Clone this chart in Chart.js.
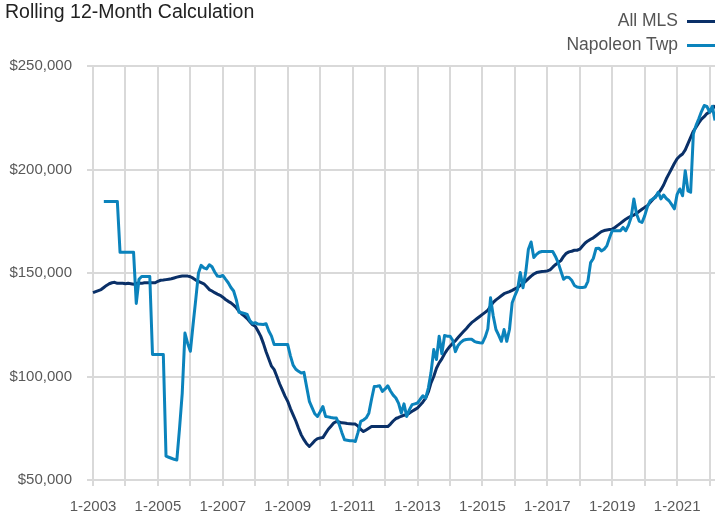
<!DOCTYPE html>
<html lang="en">
<head>
<meta charset="UTF-8">
<title>Rolling 12-Month Calculation</title>
<script src="https://cdn.jsdelivr.net/npm/chart.js@4.4.1/dist/chart.umd.min.js"></script>
<style>
  body { margin: 0; background: #fff; font-family: "Liberation Sans", Arial, sans-serif; }
  #wrap { position: relative; width: 715px; height: 515px; overflow: hidden; }
  #title { position: absolute; left: 5px; top: 0px; font-size: 19.5px; color: #222; white-space: nowrap; }
  #legend { position: absolute; right: 0; top: 8px; font-size: 17.5px; color: #555; text-align: right; }
  #legend div { height: 24px; line-height: 24px; white-space: nowrap; }
  #legend span.sw { display: inline-block; width: 28px; height: 3px; margin-left: 9px; vertical-align: middle; }
  canvas { position: absolute; left: 0; top: 0; }
</style>
</head>
<body>
<div id="wrap">
  <canvas id="myChart" width="715" height="515"></canvas>
  <div id="title">Rolling 12-Month Calculation</div>
  <div id="legend"></div>
</div>
<script>
// monthly series, Jan 2003 .. Mar 2022, values in $ thousands
var startYear = 2003;
var monthCount = 231;
var tickLabels = ['1-2003', '1-2005', '1-2007', '1-2009', '1-2011', '1-2013', '1-2015', '1-2017', '1-2019', '1-2021'];
var seriesNames = ['All MLS', 'Napoleon Twp'];
var seriesColors = ['#0a3068', '#0b83bc'];

var allMls = [
  140.5, 141, 141.5, 142, 143, 144, 144.8, 145.3, 145.5, 145,
  145, 145, 144.8, 145, 144.8, 144.6, 145, 145, 145, 145.3,
  145.3, 145.3, 145.3, 145.3, 146, 146.5, 146.6, 146.8, 147, 147.2,
  147.6, 148, 148.3, 148.5, 148.6, 148.5, 148.2, 147.5, 146.6, 146,
  145.4, 144.8, 143.5, 142, 141.3, 140.5, 139.8, 139.2, 138.3, 137.2,
  136.3, 135.6, 134.5, 133.2, 131.5, 130.2, 129.2, 128, 126.5, 125,
  124.3, 122, 119.5, 116, 112, 108.5, 105, 103.3, 100, 96.5,
  93.5, 90.5, 88, 84.5, 81.5, 78.5, 75, 71.8, 69.5, 67.5,
  66.2, 67.5, 69, 70, 70.3, 70.5, 72.5, 74.5, 76, 77.5,
  78.3, 78, 77.6, 77.5, 77.3, 77.2, 77.1, 77, 76, 74.5,
  73.4, 74.2, 75, 75.8, 75.8, 75.8, 75.8, 75.8, 75.8, 75.8,
  77, 78.5, 79.7, 80.2, 80.8, 81.3, 81.5, 82.3, 83.2, 84,
  84.8, 86.2, 87.7, 89.5, 92.5, 96.9, 100, 104, 106.6, 108.5,
  111, 113, 114.6, 116, 117.3, 118.8, 120.3, 121.7, 123.1, 124.6,
  126, 127, 128, 129, 130, 131, 132, 134, 135.8, 137,
  138, 139, 140, 140.5, 141, 141.6, 142.3, 142.9, 144, 145,
  146, 147.3, 148.5, 149.5, 150.2, 150.5, 150.7, 150.8, 151, 151.5,
  152.8, 154, 155, 156, 158, 159.5, 160.2, 160.5, 161, 161,
  161.5, 163, 164.5, 165.5, 166.3, 167, 168, 169, 170, 170.5,
  170.8, 171, 171.2, 172, 173, 174, 175, 176, 176.8, 177.5,
  178, 178.8, 179.8, 180.8, 181.7, 182.5, 184, 185.5, 187, 188.5,
  190.2, 192.5, 195.5, 198, 200.5, 203, 205.2, 206.5, 207.5, 209.5,
  212.5, 215.5, 218.5, 220.5, 222.5, 224.3, 225.5, 227, 227.7, 229, 231
];

var napoleon = [
  null, null, null, null, 184.6, 184.6, 184.6, 184.6, 184.6, 184.6,
  160, 160, 160, 160, 160, 160, 135.3, 147, 148.3, 148.3,
  148.3, 148.3, 110.6, 110.6, 110.6, 110.6, 110.6, 61.5, 61, 60.5,
  60, 59.7, 75, 92, 121, 116, 112.2, 125, 137.3, 150,
  153.7, 152.5, 152, 154, 153, 150.5, 148.5, 148.3, 148.8, 147,
  145.3, 143, 141.3, 137, 131, 130.8, 130.5, 130, 127, 125.6,
  126, 125.3, 125.2, 125.1, 125.5, 122, 119.5, 115.4, 115.4, 115.4,
  115.4, 115.4, 115.4, 110, 105.5, 103.5, 102.5, 101.7, 102, 95,
  88, 85, 82, 80.7, 83, 85.5, 80.7, 80.5, 80.2, 80,
  79.9, 77, 73, 69.4, 69.2, 69, 69, 68.6, 73, 78.3,
  79, 80, 82.3, 89, 95.2, 95.3, 95.5, 92.8, 94, 95.5,
  93, 91, 89.6, 87, 82.3, 86.8, 80.7, 84, 86.4, 86.8,
  87.2, 89, 90.7, 89.5, 94.4, 102, 113, 108.2, 119.5, 111,
  119.8, 119.5, 119.5, 117.5, 112, 115, 116.5, 117.5, 117.9, 118,
  118, 117, 116.5, 116.3, 116.2, 119, 123, 138, 129.2, 122.7,
  120, 117, 122.7, 117, 122.7, 135.6, 139, 142.1, 150.2, 142.9,
  150.2, 161.5, 165, 157.5, 159, 160, 160.4, 160.4, 160.4, 160.4,
  160.4, 158, 155, 151, 147, 148, 147.8, 146.5, 144, 143.2,
  143, 143, 143.2, 146, 155, 157, 161.8, 162, 160.7, 161.5,
  163.1, 167, 170.4, 170.4, 170.4, 170.4, 172, 170.4, 173, 176.9,
  185.8, 178.5, 175, 174.4, 177.6, 182, 184.9, 185.8, 186.5, 189,
  185.8, 187.7, 186, 184.9, 183, 181, 188, 190.6, 187.3, 199.4,
  189.7, 189, 217.2, 221.3, 224.5, 228, 230.9, 230.5, 227.7, 230.5, 223.7
];

// month labels like 1-2003, 2-2003 ...
var labels = [];
for (var i = 0; i < monthCount; i++) {
  labels.push((i % 12 + 1) + '-' + (startYear + Math.floor(i / 12)));
}

// html legend, line swatch on the right of the text
var legendEl = document.getElementById('legend');
seriesNames.forEach(function (name, i) {
  var row = document.createElement('div');
  row.innerHTML = name + '<span class="sw" style="background:' + seriesColors[i] + '"></span>';
  legendEl.appendChild(row);
});

var gridColor = '#d9d9d9';
var tickFont = { family: '"Liberation Sans", Arial, sans-serif', size: 15 };

var ctx = document.getElementById('myChart').getContext('2d');
var chart = new Chart(ctx, {
  type: 'line',
  data: {
    labels: labels,
    datasets: [{
      label: seriesNames[0],
      data: allMls,
      borderColor: seriesColors[0],
      borderWidth: 3,
      pointRadius: 0,
      tension: 0,
      borderJoinStyle: 'round',
      order: 1
    }, {
      label: seriesNames[1],
      data: napoleon,
      borderColor: seriesColors[1],
      borderWidth: 3,
      pointRadius: 0,
      tension: 0,
      borderJoinStyle: 'round',
      order: 0
    }]
  },
  options: {
    responsive: false,
    animation: false,
    devicePixelRatio: 1,
    layout: { padding: { top: 66, right: 0, bottom: 0, left: 0 } },
    plugins: {
      legend: { display: false },
      title: { display: false },
      tooltip: { enabled: false }
    },
    scales: {
      x: {
        offset: false,
        grid: {
          color: function (c) { return c.index % 12 === 0 ? gridColor : 'rgba(0,0,0,0)'; },
          lineWidth: 2,
          tickLength: 6
        },
        border: { color: gridColor, width: 2 },
        ticks: {
          autoSkip: false,
          maxRotation: 0,
          padding: 12,
          color: '#595959',
          font: tickFont,
          callback: function (value, index) {
            var l = labels[index];
            return tickLabels.indexOf(l) >= 0 ? l : '';
          }
        },
        afterFit: function (scale) {
          scale.height = 35;
          scale.paddingLeft = 0;
          scale.paddingRight = 0;
        }
      },
      y: {
        min: 50,
        max: 250,
        grid: { color: gridColor, lineWidth: 2, tickLength: 6 },
        border: { color: gridColor, width: 2 },
        ticks: {
          stepSize: 50,
          padding: 15,
          color: '#595959',
          font: tickFont,
          callback: function (v) { return '$' + (v * 1000).toLocaleString('en-US'); }
        },
        afterFit: function (scale) { scale.width = 93; }
      }
    }
  }
});
</script>
</body>
</html>
